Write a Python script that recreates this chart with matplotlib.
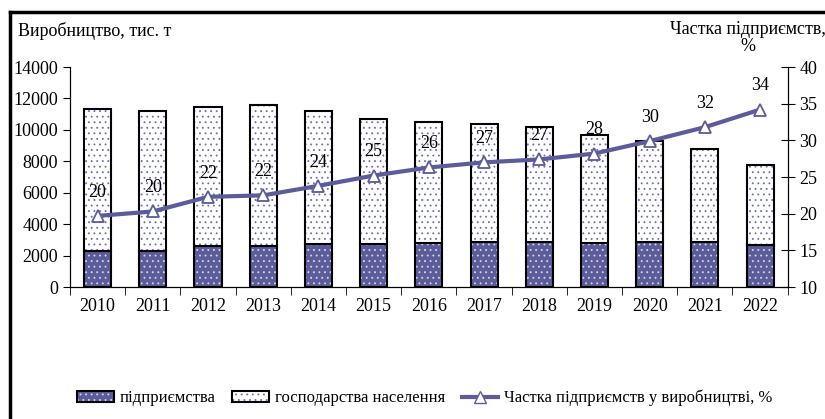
import numpy as np
import matplotlib
matplotlib.use("Agg")
import matplotlib.pyplot as plt
from matplotlib.patches import Patch
from matplotlib.lines import Line2D

years = ["2010", "2011", "2012", "2013", "2014", "2015", "2016",
         "2017", "2018", "2019", "2020", "2021", "2022"]
total = [11300, 11190, 11440, 11570, 11190, 10680, 10490,
         10360, 10170, 9650, 9270, 8760, 7740]
enterprises = [2300, 2300, 2620, 2620, 2750, 2750, 2810,
               2880, 2880, 2810, 2880, 2880, 2680]
share = [19.7, 20.3, 22.3, 22.5, 23.8, 25.2, 26.3,
         27.0, 27.4, 28.2, 29.9, 31.8, 34.2]
share_labels = ["20", "20", "22", "22", "24", "25", "26",
                "27", "27", "28", "30", "32", "34"]
households = [t - e for t, e in zip(total, enterprises)]

plt.rcParams['font.family'] = ['Liberation Serif', 'DejaVu Serif']
plt.rcParams['font.size'] = 13
plt.rcParams['hatch.linewidth'] = 0.6

navy = "#5c5c9a"
dots = "#6c6cb0"
HATCH = "..."

fig = plt.figure(figsize=(8.25, 4.19), dpi=100)
ax = fig.add_axes([0.0848, 0.315, 0.870, 0.525])
x = np.arange(len(years))
w = 0.49

ax.bar(x, enterprises, w, color=navy, edgecolor="#d8d8ec", hatch=HATCH, linewidth=0)
ax.bar(x, enterprises, w, fill=False, edgecolor="black", linewidth=1.5)
ax.bar(x, households, w, bottom=enterprises, color="white", edgecolor=dots,
       hatch=HATCH, linewidth=0)
ax.bar(x, households, w, bottom=enterprises, fill=False, edgecolor="black",
       linewidth=1.5)

ax.set_xlim(-0.5, len(years) - 0.5)
ax.set_ylim(0, 14000)
ax.set_yticks(range(0, 14001, 2000))
ax.set_xticks(x)
ax.set_xticklabels(years)
ax.set_xticks(np.arange(-0.5, len(years), 1), minor=True)
ax.tick_params(axis='x', which='major', length=0, pad=8)
ax.tick_params(axis='x', which='minor', length=6, direction='out')
ax.tick_params(axis='y', length=5, direction='out')
ax.spines['top'].set_visible(False)

ax2 = ax.twinx()
ax2.plot(x, share, color=navy, lw=3, marker="^", ms=9,
         markerfacecolor="white", markeredgecolor=navy, markeredgewidth=1.3)
for xi, yi, lab in zip(x, share, share_labels):
    ax2.annotate(lab, (xi, yi), xytext=(0, 11), textcoords="offset points",
                 ha="center", va="bottom", fontsize=13)
ax2.set_ylim(10, 40)
ax2.set_yticks(range(10, 41, 5))
ax2.tick_params(axis='y', length=10, direction='inout')
ax2.spines['top'].set_visible(False)

fig.text(0.022, 0.925, "Виробництво, тис. т", ha="left", va="center", fontsize=13)
fig.text(0.906, 0.91, "Частка підприємств,\n%", ha="center", va="center",
         fontsize=13, linespacing=1.0)

# frame of the original picture (top and left edges)
fig.add_artist(Line2D([0.012, 1.0], [0.972, 0.972], color="black", lw=2.5,
                      transform=fig.transFigure))
fig.add_artist(Line2D([0.012, 0.012], [0.0, 0.972], color="black", lw=2.5,
                      transform=fig.transFigure))

h1 = (Patch(facecolor=navy, edgecolor="#d8d8ec", hatch=HATCH, linewidth=0),
      Patch(fill=False, edgecolor="black", linewidth=1.5))
h2 = (Patch(facecolor="white", edgecolor=dots, hatch=HATCH, linewidth=0),
      Patch(fill=False, edgecolor="black", linewidth=1.5))
h3 = Line2D([], [], color=navy, lw=3, marker="^", ms=9,
            markerfacecolor="white", markeredgecolor=navy)
fig.legend([h1, h2, h3],
           ["підприємства", "господарства населення",
            "Частка підприємств у виробництві, %"],
           loc="center", bbox_to_anchor=(0.515, 0.05), ncol=3, frameon=False,
           handlelength=2.2, handleheight=0.6, handletextpad=0.35,
           columnspacing=1.0, fontsize=12)

fig.savefig("out.png", dpi=100)
